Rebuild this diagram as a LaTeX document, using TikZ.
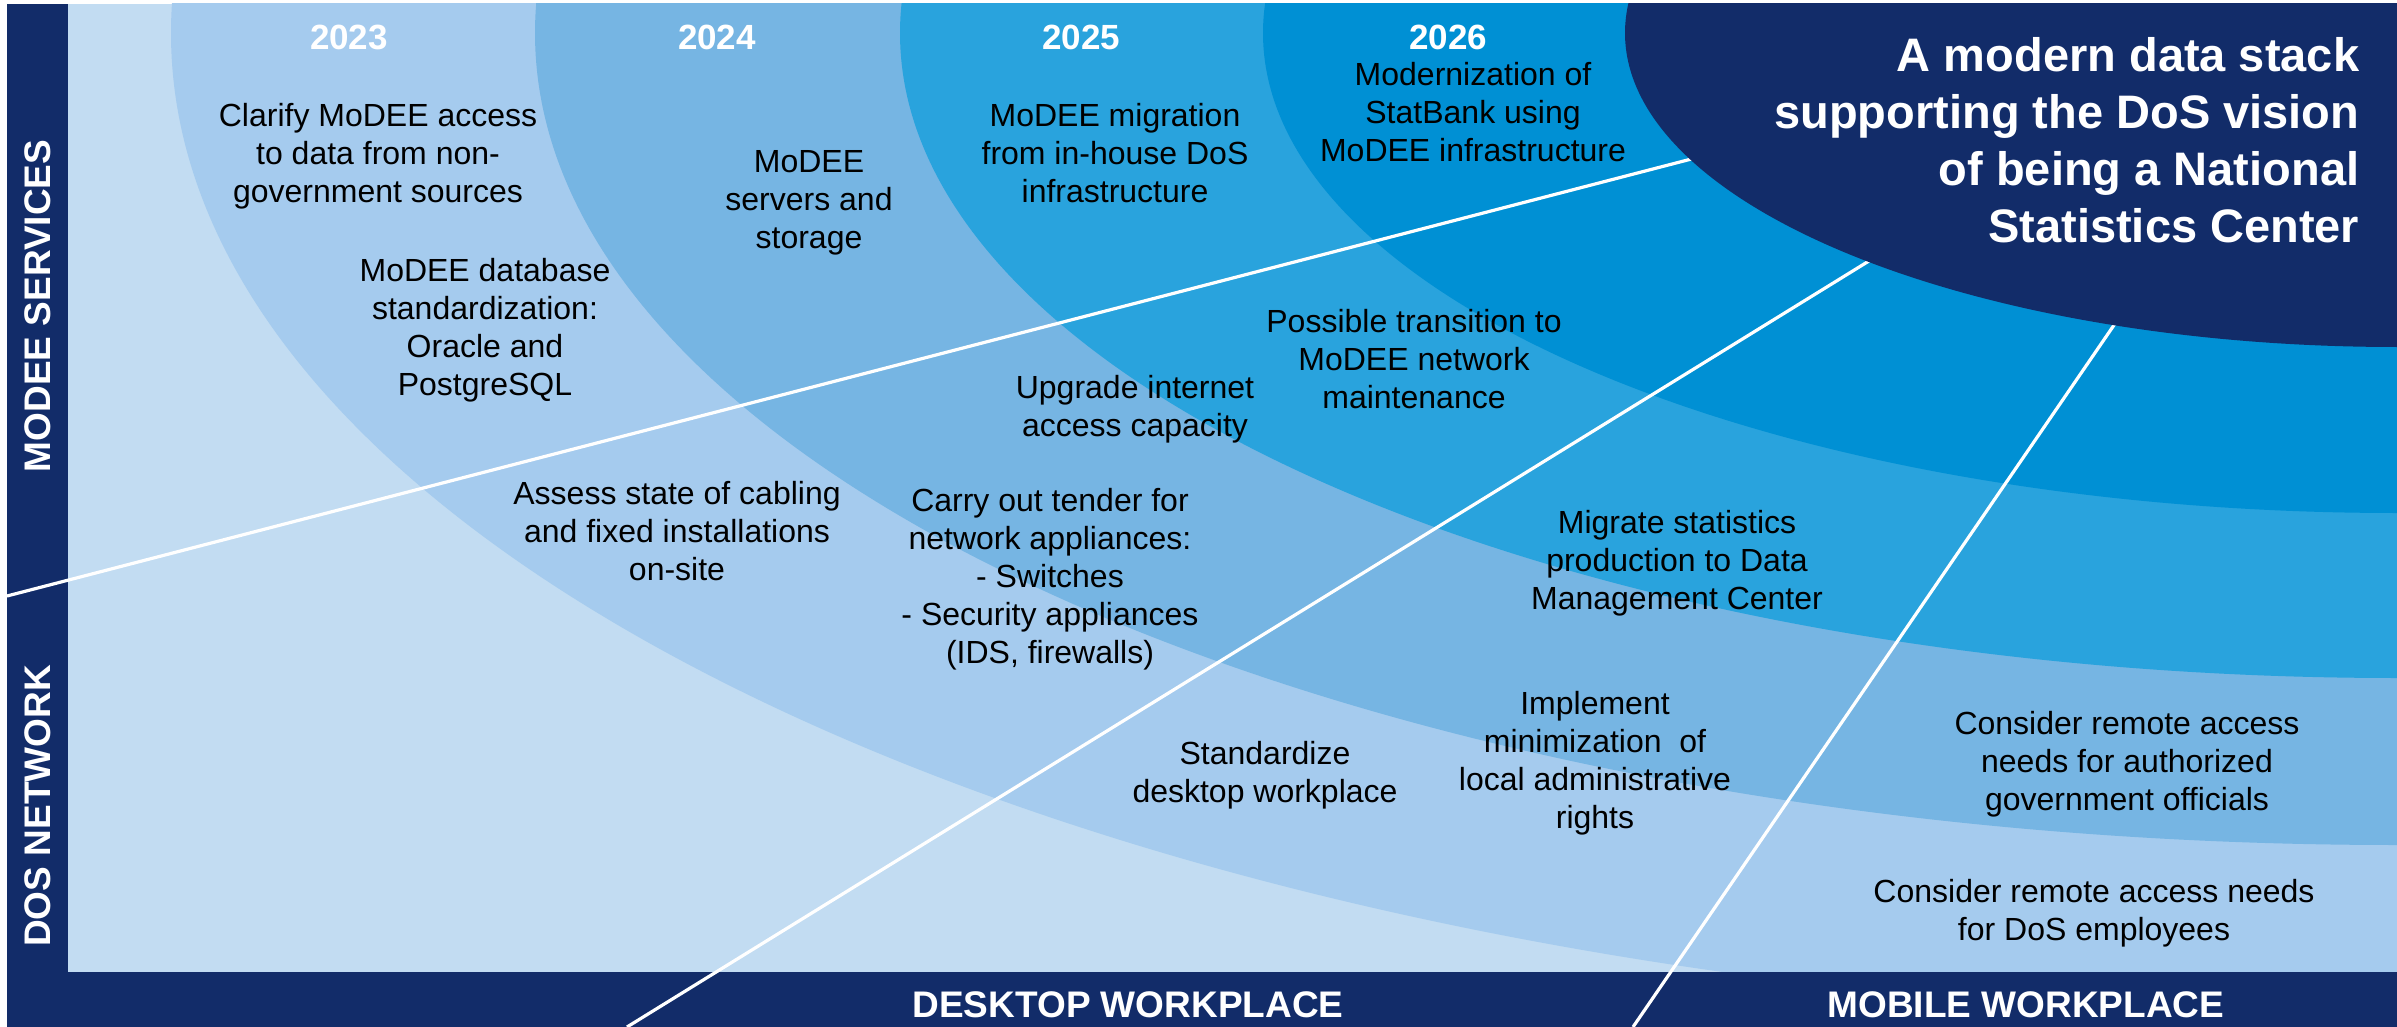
\documentclass[tikz,border=0pt]{standalone}
\usepackage{fontspec}
\setmainfont{Liberation Sans}
\usepackage{tikz}
\usetikzlibrary{positioning}

\definecolor{navy}{RGB}{18,44,105}
\definecolor{bandbg}{RGB}{194,220,242}
\definecolor{band23}{RGB}{165,203,238}
\definecolor{band24}{RGB}{118,181,227}
\definecolor{band25}{RGB}{41,163,221}
\definecolor{band26}{RGB}{0,144,212}

\begin{document}
\begin{tikzpicture}[x=0.25pt,y=-0.25pt]
\tikzstyle{item} = [text=black, inner sep=0pt, font=\fontsize{8}{9.5}\selectfont]
\tikzstyle{year} = [text=white, inner sep=0pt, font=\bfseries\fontsize{8.75}{10}\selectfont]
\tikzstyle{barlabel} = [text=white, inner sep=0pt, font=\bfseries\fontsize{9.25}{11}\selectfont]
\tikzstyle{vision} = [text=white, inner sep=0pt, anchor=east, font=\bfseries\fontsize{11.75}{14.25}\selectfont]
\tikzstyle{divider} = [draw=white, line width=0.8pt]

\useasboundingbox (0,0) rectangle (2397,1027);
\fill[white] (0,0) rectangle (2397,1027);

% year bands, all round one centre
\coordinate (CENTRE) at (2397,33);
\begin{scope}
\clip (7,4) rectangle (2397,1027);
\fill[bandbg] (7,4) rectangle (2397,1027);
\fill[band23] (CENTRE) ellipse [x radius=2226, y radius=985];
\fill[band24] (CENTRE) ellipse [x radius=1862, y radius=812];
\fill[band25] (CENTRE) ellipse [x radius=1497, y radius=645];
\fill[band26] (CENTRE) ellipse [x radius=1134, y radius=480];
\end{scope}

% side and bottom bars
\fill[navy] (7,4) rectangle (68,1027);
\fill[navy] (7,972) rectangle (2397,1027);

% white dividers (their ends go under the centre)
\coordinate (SERVSTART) at (7,596);
\coordinate (SERVEND) at (1730,149);
\coordinate (DESKSTART) at (627,1027);
\coordinate (DESKEND) at (1890,248);
\coordinate (MOBSTART) at (1633,1027);
\coordinate (MOBEND) at (2125,309);
\path[divider] (SERVSTART) -- (SERVEND);
\path[divider] (DESKSTART) -- (DESKEND);
\path[divider] (MOBSTART) -- (MOBEND);

\begin{scope}
\clip (7,4) rectangle (2397,1027);
\fill[navy] (CENTRE) ellipse [x radius=772, y radius=314];
\end{scope}

\node[year] (Y2023) at (349,37) {2023};
\node[year] (Y2024) at (717,37) {2024};
\node[year] (Y2025) at (1081,37) {2025};
\node[year] (Y2026) at (1448,37) {2026};

\node[vision] (VISION) at (2360,146)
   {
      \begin{tabular}{@{}r@{}}
         A modern data stack\\
         supporting the DoS vision\\
         of being a National\\
         Statistics Center
      \end{tabular}
   };

\node[barlabel, rotate=90] (MODEESERV) at (37.5,306) {MODEE SERVICES};
\node[barlabel, rotate=90] (DOSNET) at (37.5,806) {DOS NETWORK};
\node[barlabel] (DESKTOP) at (1128,1005) {DESKTOP WORKPLACE};
\node[barlabel] (MOBILE) at (2026,1005) {MOBILE WORKPLACE};

\node[item] (CLARIFY) at (378,157)
   {
      \begin{tabular}{@{}c@{}}
         Clarify MoDEE access\\
         to data from non-\\
         government sources
      \end{tabular}
   };

\node[item] (DBSTD) at (485,331)
   {
      \begin{tabular}{@{}c@{}}
         MoDEE database\\
         standardization:\\
         Oracle and\\
         PostgreSQL
      \end{tabular}
   };

\node[item] (SERVERS) at (809,203)
   {
      \begin{tabular}{@{}c@{}}
         MoDEE\\
         servers and\\
         storage
      \end{tabular}
   };

\node[item] (MIGRATION) at (1115,157)
   {
      \begin{tabular}{@{}c@{}}
         MoDEE migration\\
         from in-house DoS\\
         infrastructure
      \end{tabular}
   };

\node[item] (STATBANK) at (1473,116)
   {
      \begin{tabular}{@{}c@{}}
         Modernization of\\
         StatBank using\\
         MoDEE infrastructure
      \end{tabular}
   };

\node[item] (TRANSITION) at (1414,363)
   {
      \begin{tabular}{@{}c@{}}
         Possible transition to\\
         MoDEE network\\
         maintenance
      \end{tabular}
   };

\node[item] (UPGRADE) at (1135,410)
   {
      \begin{tabular}{@{}c@{}}
         Upgrade internet\\
         access capacity
      \end{tabular}
   };

\node[item] (CABLING) at (677,535)
   {
      \begin{tabular}{@{}c@{}}
         Assess state of cabling\\
         and fixed installations\\
         on-site
      \end{tabular}
   };

\node[item] (TENDER) at (1050,580)
   {
      \begin{tabular}{@{}c@{}}
         Carry out tender for\\
         network appliances:\\
         - Switches\\
         - Security appliances\\
         (IDS, firewalls)
      \end{tabular}
   };

\node[item] (DMC) at (1677,564)
   {
      \begin{tabular}{@{}c@{}}
         Migrate statistics\\
         production to Data\\
         Management Center
      \end{tabular}
   };

\node[item] (STDDESK) at (1265,776)
   {
      \begin{tabular}{@{}c@{}}
         Standardize\\
         desktop workplace
      \end{tabular}
   };

\node[item] (ADMINRIGHTS) at (1595,764)
   {
      \begin{tabular}{@{}c@{}}
         Implement\\
         minimization\ \ of\\
         local administrative\\
         rights
      \end{tabular}
   };

\node[item] (REMOTEGOV) at (2127,765)
   {
      \begin{tabular}{@{}c@{}}
         Consider remote access\\
         needs for authorized\\
         government officials
      \end{tabular}
   };

\node[item] (REMOTEDOS) at (2094,914)
   {
      \begin{tabular}{@{}c@{}}
         Consider remote access needs\\
         for DoS employees
      \end{tabular}
   };
\end{tikzpicture}
\end{document}
